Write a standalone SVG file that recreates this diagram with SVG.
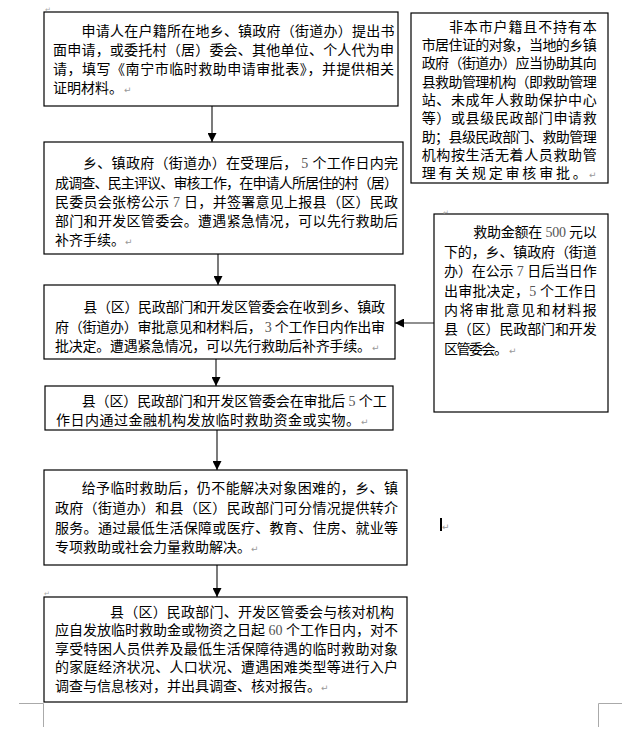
<svg xmlns="http://www.w3.org/2000/svg" width="636" height="742" viewBox="0 0 636 742">
<defs>
<style>
.box{fill:#fff;stroke:#000;stroke-width:1.2}
.t{font-family:"Noto Sans CJK SC","Noto Sans CJK JP",sans-serif;font-size:14px;fill:#000}
.n{font-family:"Liberation Serif",serif;fill:#555}
.pm{font-family:"DejaVu Sans",sans-serif;font-size:9px;fill:#999}
.pm2{font-family:"DejaVu Sans",sans-serif;font-size:7px;fill:#aaa}
.conn line{stroke:#222;stroke-width:1.2}
.mk{stroke:#aaa;stroke-width:1;fill:none}
</style>
<marker id="ah" markerUnits="userSpaceOnUse" markerWidth="9" markerHeight="9" refX="9" refY="4.5" orient="auto">
<path d="M0,0 L9,4.5 L0,9 z" fill="#000"/>
</marker>
</defs>
<rect width="636" height="742" fill="#fff"/>

<g id="connectors" class="conn">
<line x1="212" y1="106" x2="212" y2="142" marker-end="url(#ah)"/>
<line x1="218" y1="254" x2="218" y2="285" marker-end="url(#ah)"/>
<line x1="216" y1="359" x2="216" y2="386" marker-end="url(#ah)"/>
<line x1="217" y1="430" x2="217" y2="470" marker-end="url(#ah)"/>
<line x1="217" y1="565" x2="217" y2="597" marker-end="url(#ah)"/>
<line x1="434" y1="323" x2="395" y2="323" marker-end="url(#ah)"/>
</g>

<g id="n1">
<rect class="box" x="44" y="12" width="354" height="94"/>
<text class="t" x="81.5" y="36" textLength="313" lengthAdjust="spacing">申请人在户籍所在地乡、镇政府（街道办）提出书</text>
<text class="t" x="53" y="55" textLength="341" lengthAdjust="spacing">面申请，或委托村（居）委会、其他单位、个人代为申</text>
<text class="t" x="53" y="74" textLength="341" lengthAdjust="spacing">请，填写《南宁市临时救助申请审批表》，并提供相关</text>
<text class="t" x="53" y="93">证明材料。</text>
<text class="pm" x="124" y="93">↵</text>
</g>

<g id="n2">
<rect class="box" x="44" y="142" width="359" height="112"/>
<text class="t" x="83" y="168" textLength="315" lengthAdjust="spacing">乡、镇政府（街道办）在受理后，<tspan class="n"> 5 </tspan>个工作日内完</text>
<text class="t" x="55" y="187.5" textLength="343" lengthAdjust="spacing">成调查、民主评议、审核工作，在申请人所居住的村（居）</text>
<text class="t" x="55" y="206.5" textLength="343" lengthAdjust="spacing">民委员会张榜公示<tspan class="n"> 7 </tspan>日，并签署意见上报县（区）民政</text>
<text class="t" x="55" y="225.5" textLength="343" lengthAdjust="spacing">部门和开发区管委会。遭遇紧急情况，可以先行救助后</text>
<text class="t" x="55" y="245">补齐手续。</text>
<text class="pm" x="125" y="245">↵</text>
</g>

<g id="n3">
<rect class="box" x="411" y="13" width="197" height="170"/>
<text class="t" x="449" y="31.7" textLength="147.7" lengthAdjust="spacing">非本市户籍且不持有本</text>
<text class="t" x="421.7" y="50" textLength="175" lengthAdjust="spacing">市居住证的对象，当地的乡镇</text>
<text class="t" x="421.7" y="68.3" textLength="175" lengthAdjust="spacing">政府（街道办）应当协助其向</text>
<text class="t" x="421.7" y="86.7" textLength="175" lengthAdjust="spacing">县救助管理机构（即救助管理</text>
<text class="t" x="421.7" y="105" textLength="175" lengthAdjust="spacing">站、未成年人救助保护中心</text>
<text class="t" x="421.7" y="123.3" textLength="175" lengthAdjust="spacing">等）或县级民政部门申请救</text>
<text class="t" x="421.7" y="141.5" textLength="175" lengthAdjust="spacing">助；县级民政部门、救助管理</text>
<text class="t" x="421.7" y="159.8" textLength="175" lengthAdjust="spacing">机构按生活无着人员救助管</text>
<text class="t" x="421.7" y="178" textLength="165" lengthAdjust="spacing">理有关规定审核审批。</text>
<text class="pm" x="589" y="178">↵</text>
</g>

<g id="n4">
<rect class="box" x="434" y="214" width="174" height="198"/>
<text class="pm2" x="443" y="215">↵</text>
<text class="t" x="473.3" y="237.3" textLength="123.4" lengthAdjust="spacing">救助金额在<tspan class="n"> 500 </tspan>元以</text>
<text class="t" x="444" y="257.3" textLength="152.7" lengthAdjust="spacing">下的，乡、镇政府（街道</text>
<text class="t" x="444" y="276" textLength="152.7" lengthAdjust="spacing">办）在公示<tspan class="n"> 7 </tspan>日后当日作</text>
<text class="t" x="444" y="295.7" textLength="152.7" lengthAdjust="spacing">出审批决定，<tspan class="n">5 </tspan>个工作日</text>
<text class="t" x="444" y="315" textLength="152.7" lengthAdjust="spacing">内将审批意见和材料报</text>
<text class="t" x="444" y="334.3" textLength="152.7" lengthAdjust="spacing">县（区）民政部门和开发</text>
<text class="t" x="444" y="354" textLength="64" lengthAdjust="spacing">区管委会。</text>
<text class="pm" x="509" y="354">↵</text>
</g>

<g id="n5">
<rect class="box" x="44" y="285" width="351" height="74"/>
<text class="t" x="83.3" y="311.7" textLength="301.7" lengthAdjust="spacing">县（区）民政部门和开发区管委会在收到乡、镇政</text>
<text class="t" x="55" y="331.7" textLength="330" lengthAdjust="spacing">府（街道办）审批意见和材料后，<tspan class="n"> 3 </tspan>个工作日内作出审</text>
<text class="t" x="55" y="350.7" textLength="316" lengthAdjust="spacing">批决定。遭遇紧急情况，可以先行救助后补齐手续。</text>
<text class="pm" x="372" y="350.7">↵</text>
</g>

<g id="n6">
<rect class="box" x="45" y="386" width="348" height="44"/>
<text class="t" x="81.7" y="406" textLength="305" lengthAdjust="spacing">县（区）民政部门和开发区管委会在审批后<tspan class="n"> 5 </tspan>个工</text>
<text class="t" x="56" y="425" textLength="304" lengthAdjust="spacing">作日内通过金融机构发放临时救助资金或实物。</text>
<text class="pm" x="361" y="425">↵</text>
</g>

<g id="n7">
<rect class="box" x="44" y="470" width="363" height="95"/>
<text class="t" x="81.7" y="493.3" textLength="316.3" lengthAdjust="spacing">给予临时救助后，仍不能解决对象困难的，乡、镇</text>
<text class="t" x="55" y="513.3" textLength="343" lengthAdjust="spacing">政府（街道办）和县（区）民政部门可分情况提供转介</text>
<text class="t" x="55" y="532.7" textLength="343" lengthAdjust="spacing">服务。通过最低生活保障或医疗、教育、住房、就业等</text>
<text class="t" x="55" y="552.3">专项救助或社会力量救助解决。</text>
<text class="pm" x="251" y="552.3">↵</text>
</g>

<g id="n8">
<rect class="box" x="44" y="597" width="363" height="105"/>
<text class="t" x="110" y="616.7" textLength="284" lengthAdjust="spacing">县（区）民政部门、开发区管委会与核对机构</text>
<text class="t" x="55" y="635" textLength="343" lengthAdjust="spacing">应自发放临时救助金或物资之日起<tspan class="n"> 60 </tspan>个工作日内，对不</text>
<text class="t" x="55" y="654" textLength="343" lengthAdjust="spacing">享受特困人员供养及最低生活保障待遇的临时救助对象</text>
<text class="t" x="55" y="672.3" textLength="343" lengthAdjust="spacing">的家庭经济状况、人口状况、遭遇困难类型等进行入户</text>
<text class="t" x="55" y="691">调查与信息核对，并出具调查、核对报告。</text>
<text class="pm" x="321" y="691">↵</text>
</g>

<g id="marks">
<text class="pm2" x="45" y="12">↵</text>
<text class="pm2" x="44" y="596">↵</text>
<rect x="440" y="518" width="2" height="13" fill="#000"/>
<text class="pm" x="442" y="530">↵</text>
<path class="mk" d="M19,703.5 H43.5 V727"/>
<path class="mk" d="M622,703.5 H598.5 V727"/>
</g>
</svg>
